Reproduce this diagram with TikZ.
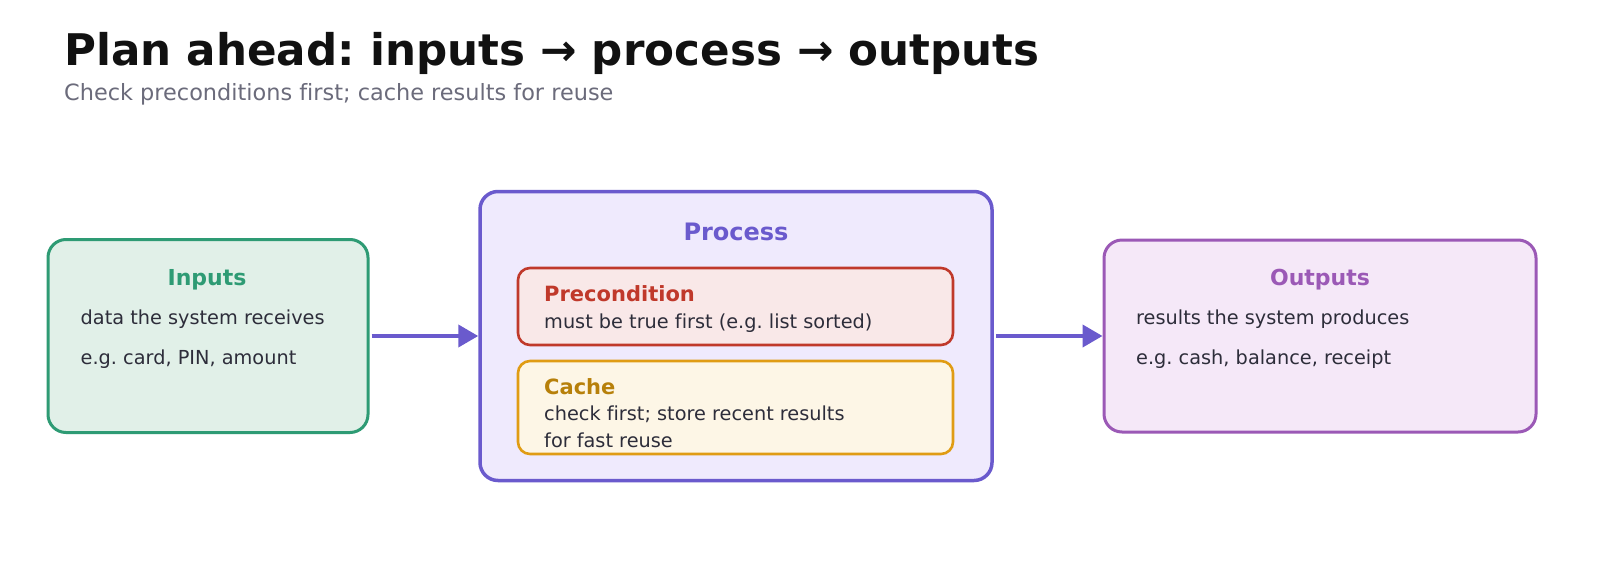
\documentclass[tikz,border=0pt]{standalone}
\usepackage{fontspec}
\setmainfont[Ligatures={NoCommon}]{DejaVu Sans}
\usetikzlibrary{arrows.meta}
\frenchspacing
\definecolor{titlec}{HTML}{111111}
\definecolor{subc}{HTML}{6B6B7B}
\definecolor{bodyc}{HTML}{2D2D3A}
\definecolor{inb}{HTML}{2E9B74}
\definecolor{inf}{HTML}{E1F0E8}
\definecolor{prb}{HTML}{6A5ACD}
\definecolor{prf}{HTML}{EFEAFD}
\definecolor{pcb}{HTML}{C0392B}
\definecolor{pcf}{HTML}{F9E8E8}
\definecolor{cab}{HTML}{E09C14}
\definecolor{caf}{HTML}{FDF6E6}
\definecolor{cat}{HTML}{B7800A}
\definecolor{oub}{HTML}{9B59B6}
\definecolor{ouf}{HTML}{F5E8F8}
\tikzset{
  box/.style={rectangle, rounded corners=18pt, line width=3pt, inner sep=0pt},
  inbox/.style={rectangle, rounded corners=12pt, line width=2.6pt, inner sep=0pt},
  lbl/.style={inner sep=0pt, font=\fontsize{22}{26}\selectfont\bfseries},
  smlbl/.style={inner sep=0pt, anchor=base west, font=\fontsize{21}{25}\selectfont\bfseries},
  body/.style={inner sep=0pt, anchor=base west, text=bodyc, font=\fontsize{19.3}{23}\selectfont},
  arrow/.style={draw=prb, line width=4pt, -{Triangle[length=20pt,width=22pt]}, shorten <=2pt}
}
\begin{document}
\begin{tikzpicture}[x=1pt,y=-1pt]
\useasboundingbox (0,0) rectangle (1600,576);
\fill[white] (0,0) rectangle (1600,576);
\node[inner sep=0pt, anchor=base west, text=titlec, font=\fontsize{43.6}{52}\selectfont\bfseries] (title) at (64,65) {Plan ahead: inputs → process → outputs};
\node[inner sep=0pt, anchor=base west, text=subc, font=\fontsize{22.4}{27}\selectfont] (sub) at (64,100) {Check preconditions first; cache results for reuse};

\node[box, draw=inb, fill=inf, minimum width=320pt, minimum height=193pt] (inputs) at (208,336) {};
\node[lbl, anchor=base, text=inb] (inl) at (207,285) {Inputs};
\node[body] (in1) at (80.5,324) {data the system receives};
\node[body] (in2) at (80.5,364) {e.g. card, PIN, amount};

\node[box, draw=prb, fill=prf, line width=3.5pt, minimum width=512pt, minimum height=289pt] (process) at (736,336) {};
\node[inner sep=0pt, anchor=base, text=prb, font=\fontsize{24}{28}\selectfont\bfseries] (prl) at (736,240) {Process};

\node[inbox, draw=pcb, fill=pcf, minimum width=435pt, minimum height=77pt] (pre) at (735.5,306.5) {};
\node[smlbl, text=pcb] (prel) at (544,301) {Precondition};
\node[body] (pre1) at (544,328) {must be true first (e.g. list sorted)};

\node[inbox, draw=cab, fill=caf, minimum width=435pt, minimum height=93pt] (cache) at (735.5,407.5) {};
\node[smlbl, text=cat] (cal) at (544,394) {Cache};
\node[body] (ca1) at (544,420.5) {check first; store recent results};
\node[body] (ca2) at (544,447) {for fast reuse};

\node[box, draw=oub, fill=ouf, minimum width=432pt, minimum height=192pt] (outputs) at (1320,336) {};
\node[lbl, anchor=base, text=oub] (oul) at (1320,285) {Outputs};
\node[body] (ou1) at (1136,324) {results the system produces};
\node[body] (ou2) at (1136,364) {e.g. cash, balance, receipt};

\draw[arrow] (inputs.east) -- (process.west);
\draw[arrow] (process.east) -- (outputs.west);
\end{tikzpicture}
\end{document}
